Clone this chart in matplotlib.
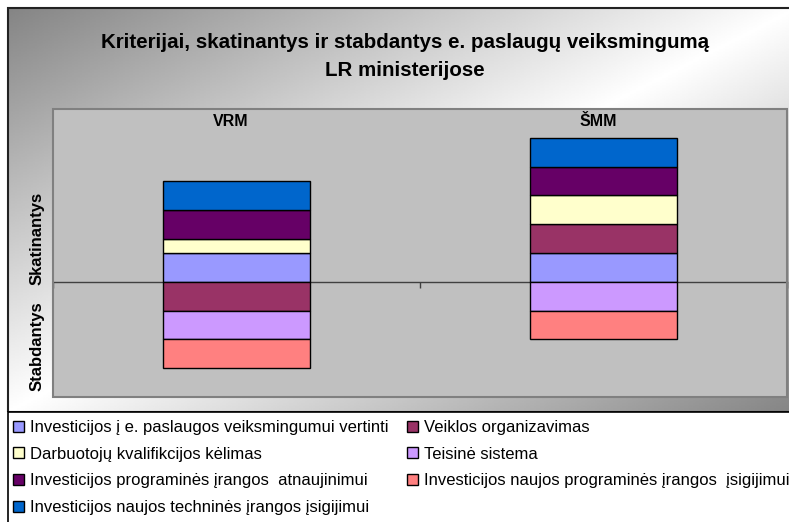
import numpy as np
import matplotlib
matplotlib.use("Agg")
import matplotlib.pyplot as plt
from matplotlib.patches import Rectangle

plt.rcParams['font.family'] = ['Liberation Sans', 'DejaVu Sans']

# data
categories = ['VRM', 'ŠMM']
series_names = [
    'Investicijos į e. paslaugos veiksmingumui vertinti',
    'Veiklos organizavimas',
    'Darbuotojų kvalifikcijos kėlimas',
    'Teisinė sistema',
    'Investicijos programinės įrangos  atnaujinimui',
    'Investicijos naujos programinės įrangos  įsigijimui',
    'Investicijos naujos techninės įrangos įsigijimui',
]
e_paslaugos = [1, 1]
veiklos_org = [-1, 1]
darbuotoju = [0.5, 1]
teisine = [-1, -1]
prog_atnaujinimas = [1, 1]
prog_isigijimas = [-1, -1]
technines_isigijimas = [1, 1]
series_values = [e_paslaugos, veiklos_org, darbuotoju, teisine,
                 prog_atnaujinimas, prog_isigijimas, technines_isigijimas]
series_colors = ['#9999FF', '#993366', '#FFFFCC', '#CC99FF',
                 '#660066', '#FF8080', '#0066CC']
y_labels = ['Skatinantys', 'Stabdantys']

W, H = 789, 522
fig = plt.figure(figsize=(W / 100, H / 100), dpi=100)


def fx(px):
    return px / W


def fy(py):
    return 1 - py / H


# chart area with diagonal gradient
bg = fig.add_axes([fx(8), fy(412), 1.0, fy(8) - fy(412)], zorder=-5)
U, V = np.meshgrid(np.linspace(0, 1, 400), np.linspace(0, 1, 250))
grad = 1 - 0.48 * np.abs(U + V - 1)
bg.imshow(grad, cmap='gray', vmin=0, vmax=1, aspect='auto')
bg.axis('off')
fig.add_artist(Rectangle((fx(8), fy(412)), 1.0, fy(8) - fy(412), transform=fig.transFigure,
                         fill=False, edgecolor='#222222', lw=1.5, zorder=-4))

# legend box
fig.add_artist(Rectangle((fx(8), -0.05), 1.0, fy(412) + 0.05, transform=fig.transFigure,
                         facecolor='white', edgecolor='black', lw=1.2, zorder=-3))

# plot area
ax = fig.add_axes([fx(53), fy(397), fx(787) - fx(53), fy(109) - fy(397)])
ax.set_facecolor('#C0C0C0')
ax.set_xlim(-0.5, 1.5)
ax.set_ylim(-4, 6)

x = np.arange(len(categories))
pos_bottom = np.zeros(len(categories))
neg_bottom = np.zeros(len(categories))
handles = []
for name, vals, col in zip(series_names, series_values, series_colors):
    vals = np.array(vals, dtype=float)
    bottom = np.where(vals >= 0, pos_bottom, neg_bottom)
    b = ax.bar(x, vals, 0.4, bottom=bottom, color=col, edgecolor='black',
               linewidth=1, label=name, zorder=3)
    pos_bottom += np.where(vals > 0, vals, 0)
    neg_bottom += np.where(vals < 0, vals, 0)
    handles.append(b)

for s in ['left', 'right', 'top']:
    ax.spines[s].set_visible(False)
ax.spines['bottom'].set_position(('data', 0))
ax.spines['bottom'].set_color('#404040')
ax.spines['bottom'].set_linewidth(1)
ax.add_patch(Rectangle((0, 0), 1, 1, transform=ax.transAxes, fill=False,
                       edgecolor='#808080', lw=1.5, clip_on=False, zorder=5))
ax.set_yticks([])
ax.set_xticks([-0.5, 0.5, 1.5])
ax.set_xticklabels([])
ax.tick_params(axis='x', direction='out', length=4, width=1, color='#404040')

for i, c in enumerate(categories):
    ax.text(i - 0.015, 5.55, c, ha='center', va='center', fontweight='bold', fontsize=11.5)

# titles
fig.text(fx(405), fy(43), 'Kriterijai, skatinantys ir stabdantys e. paslaugų veiksmingumą',
         ha='center', va='center', fontweight='bold', fontsize=14.8)
fig.text(fx(405), fy(70), 'LR ministerijose', ha='center', va='center',
         fontweight='bold', fontsize=14.8)
fig.text(fx(37), fy(238), y_labels[0], rotation=90, ha='center', va='center',
         fontweight='bold', fontsize=12)
fig.text(fx(37), fy(346), y_labels[1], rotation=90, ha='center', va='center',
         fontweight='bold', fontsize=12)

# legend, row-major order like the original
order = [0, 2, 4, 6, 1, 3, 5]
fig.legend([handles[i] for i in order], [series_names[i] for i in order],
           loc='upper left', bbox_to_anchor=(fx(13), fy(420)), ncol=2, frameon=False,
           fontsize=12, handlelength=0.65, handleheight=0.65, handletextpad=0.35,
           columnspacing=1.15, labelspacing=0.7, borderpad=0, borderaxespad=0)

fig.savefig('out.png', dpi=100)
